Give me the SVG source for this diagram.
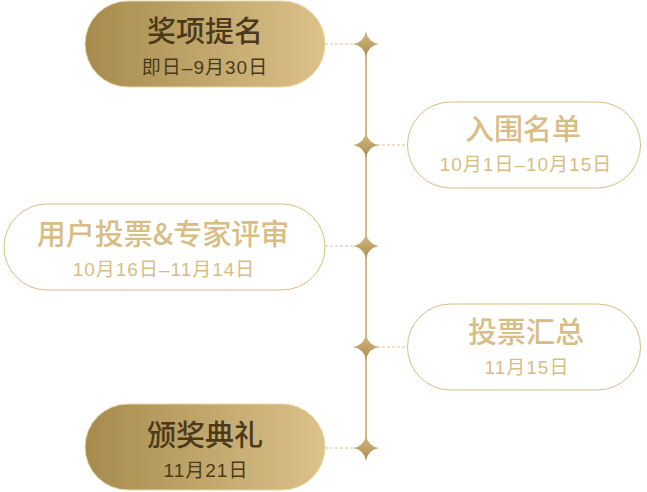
<svg xmlns="http://www.w3.org/2000/svg" width="647" height="492" viewBox="0 0 647 492">
<defs>
<linearGradient id="gold" x1="0" y1="0" x2="1" y2="0">
<stop offset="0" stop-color="#a68b4d"/>
<stop offset="1" stop-color="#dcc28b"/>
</linearGradient>
<linearGradient id="starg" x1="0" y1="0" x2="0" y2="1">
<stop offset="0" stop-color="#d6bb80"/>
<stop offset="1" stop-color="#a88c50"/>
</linearGradient>
<path id="star" d="M0,-13 Q1.8,-1.8 13,0 Q1.8,1.8 0,13 Q-1.8,1.8 -13,0 Q-1.8,-1.8 0,-13 Z"/>
</defs>
<style>
.filled{fill:url(#gold);stroke:#ead6a4;stroke-width:1}
.outline{fill:#ffffff;stroke:#d8bd84;stroke-width:1}
.t{text-anchor:middle}
.title{font-family:"Noto Sans CJK SC","Noto Sans",sans-serif;font-size:29px;font-weight:500}
.sub{font-family:"Liberation Sans","Noto Sans CJK SC",sans-serif;font-size:19px;letter-spacing:1px}
.dark{fill:#4a3a1b}
.light{fill:#d8bd84}
.dash{stroke:#dcc38c;stroke-width:1;stroke-dasharray:3 2;fill:none}
.axis{stroke:#d6bb80;stroke-width:2;fill:none}
</style>
<g id="connectors">
<line class="axis" x1="366" y1="44" x2="366" y2="448"/>
<line class="dash" x1="325" y1="44" x2="355" y2="44"/>
<line class="dash" x1="377" y1="145" x2="407" y2="145"/>
<line class="dash" x1="325" y1="246" x2="355" y2="246"/>
<line class="dash" x1="377" y1="347" x2="407" y2="347"/>
<line class="dash" x1="325" y1="448" x2="355" y2="448"/>
<use href="#star" x="366" y="44" fill="url(#starg)"/>
<use href="#star" x="366" y="145" fill="url(#starg)"/>
<use href="#star" x="366" y="246" fill="url(#starg)"/>
<use href="#star" x="366" y="347" fill="url(#starg)"/>
<use href="#star" x="366" y="448" fill="url(#starg)"/>
</g>
<g id="node1">
<rect class="filled" x="85" y="1" width="240" height="86" rx="43"/>
<text class="t title dark" x="205" y="42">奖项提名</text>
<text class="t sub dark" x="205" y="74">即日–9月30日</text>
</g>
<g id="node2">
<rect class="outline" x="407.5" y="102" width="233" height="86" rx="43"/>
<text class="t title light" x="523" y="140">入围名单</text>
<text class="t sub light" x="526" y="171">10月1日–10月15日</text>
</g>
<g id="node3">
<rect class="outline" x="4" y="204" width="321" height="86" rx="43"/>
<text class="t title light" x="163" y="245">用户投票&amp;专家评审</text>
<text class="t sub light" x="164" y="276">10月16日–11月14日</text>
</g>
<g id="node4">
<rect class="outline" x="407.5" y="304" width="233" height="86" rx="43"/>
<text class="t title light" x="526" y="343">投票汇总</text>
<text class="t sub light" x="527" y="374">11月15日</text>
</g>
<g id="node5">
<rect class="filled" x="85" y="404" width="240" height="86" rx="43"/>
<text class="t title dark" x="205" y="446">颁奖典礼</text>
<text class="t sub dark" x="206" y="477">11月21日</text>
</g>
</svg>
